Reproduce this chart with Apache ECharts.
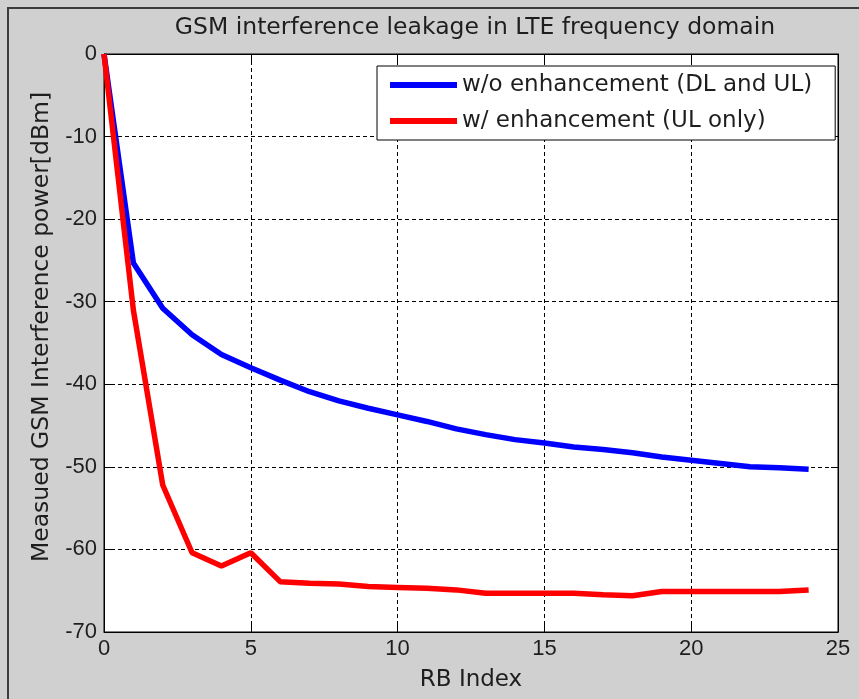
<!DOCTYPE html>
<html>
<head>
<meta charset="utf-8">
<script src="https://cdn.jsdelivr.net/npm/echarts@6/dist/echarts.min.js"></script>
<style>
  html, body { margin: 0; padding: 0; background: #d0d0d0; }
  #chart { width: 859px; height: 699px; }
</style>
</head>
<body>
<div id="chart"></div>
<script>
const rbIndex = [0, 1, 2, 3, 4, 5, 6, 7, 8, 9, 10, 11, 12, 13, 14, 15, 16, 17, 18, 19, 20, 21, 22, 23, 24];
const withoutEnh = [0, -25.3, -30.8, -34.0, -36.4, -38.0, -39.5, -40.9, -42.0, -42.9, -43.7, -44.5, -45.4, -46.1, -46.7, -47.1, -47.6, -47.9, -48.3, -48.8, -49.2, -49.6, -50.0, -50.1, -50.3];
const withEnh = [0, -31.0, -52.2, -60.4, -62.0, -60.4, -63.9, -64.1, -64.2, -64.5, -64.6, -64.7, -64.9, -65.3, -65.3, -65.3, -65.3, -65.5, -65.6, -65.1, -65.1, -65.1, -65.1, -65.1, -64.9];
const xTicks = [0, 5, 10, 15, 20, 25];
const yTicks = [0, -10, -20, -30, -40, -50, -60, -70];

const textFont = "'DejaVu Sans', Verdana, sans-serif";
const tickFont = "'Liberation Sans', Arial, sans-serif";
const ink = "#1e1e1e";

const chart = echarts.init(document.getElementById("chart"));

const gridLine = {
  show: true,
  lineStyle: { color: "#000", type: [4, 3], width: 1 },
};
const tick = { show: true, inside: true, length: 7, lineStyle: { color: "#000" } };
const line = { show: true, onZero: false, lineStyle: { color: "#000", width: 1 } };

chart.setOption({
  backgroundColor: "#d0d0d0",
  animation: false,
  title: {
    text: "GSM interference leakage in LTE frequency domain",
    left: 470,
    textAlign: "center",
    top: 11,
    textStyle: { fontFamily: textFont, fontSize: 23.5, fontWeight: "normal", color: ink },
  },
  graphic: [
    {
      type: "rect",
      shape: { x: 8, y: 8, width: 900, height: 800 },
      style: { fill: "none", stroke: "#3c3c3c", lineWidth: 2 },
      silent: true,
    },
  ],
  legend: {
    left: 377,
    top: 66,
    orient: "vertical",
    backgroundColor: "#fff",
    borderColor: "#000",
    borderWidth: 1,
    padding: [7, 23, 7, 13],
    itemGap: 12,
    itemWidth: 67,
    itemHeight: 6,
    icon: "rect",
    textStyle: { fontFamily: textFont, fontSize: 23, color: ink, lineHeight: 24 },
    data: ["w/o enhancement (DL and UL)", "w/ enhancement (UL only)"],
  },
  grid: {
    left: 104,
    right: 21,
    top: 54,
    bottom: 67,
    show: true,
    backgroundColor: "#fff",
    borderColor: "#000",
    borderWidth: 1,
  },
  xAxis: [
    {
      type: "value",
      min: xTicks[0],
      max: xTicks[xTicks.length - 1],
      interval: 5,
      name: "RB Index",
      nameLocation: "middle",
      nameGap: 37,
      nameTextStyle: { fontFamily: textFont, fontSize: 23, color: ink },
      axisLine: line,
      axisTick: tick,
      axisLabel: { fontFamily: tickFont, fontSize: 22, color: ink, margin: 6 },
      splitLine: gridLine,
    },
    {
      type: "value",
      position: "top",
      min: xTicks[0],
      max: xTicks[xTicks.length - 1],
      interval: 5,
      axisLine: line,
      axisTick: tick,
      axisLabel: { show: false },
      splitLine: { show: false },
    },
  ],
  yAxis: [
    {
      type: "value",
      min: yTicks[yTicks.length - 1],
      max: yTicks[0],
      interval: 10,
      name: "Measued GSM Interference power[dBm]",
      nameLocation: "middle",
      nameGap: 49,
      nameTextStyle: { fontFamily: textFont, fontSize: 23.5, color: ink, padding: [0, 0, 0, 32] },
      axisLine: line,
      axisTick: tick,
      axisLabel: { fontFamily: tickFont, fontSize: 22, color: ink, margin: 7 },
      splitLine: gridLine,
    },
    {
      type: "value",
      position: "right",
      min: yTicks[yTicks.length - 1],
      max: yTicks[0],
      interval: 10,
      axisLine: line,
      axisTick: tick,
      axisLabel: { show: false },
      splitLine: { show: false },
    },
  ],
  series: [
    {
      name: "w/o enhancement (DL and UL)",
      type: "line",
      data: rbIndex.map((x, i) => [x, withoutEnh[i]]),
      color: "#0000ff",
      showSymbol: false,
      lineStyle: { width: 5.5, color: "#0000ff" },
    },
    {
      name: "w/ enhancement (UL only)",
      type: "line",
      data: rbIndex.map((x, i) => [x, withEnh[i]]),
      color: "#ff0000",
      showSymbol: false,
      lineStyle: { width: 5.5, color: "#ff0000" },
    },
  ],
});
</script>
</body>
</html>
